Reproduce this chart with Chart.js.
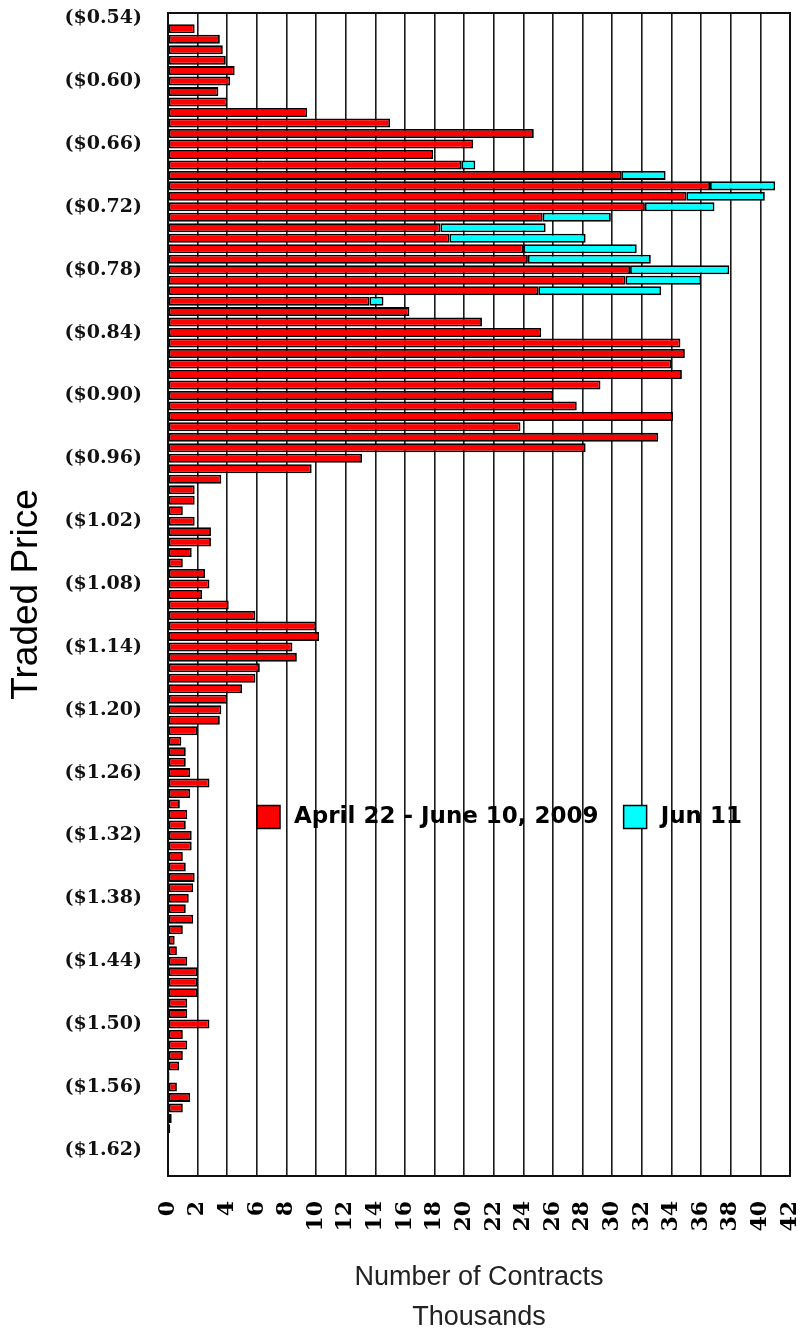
<!DOCTYPE html>
<html>
<head>
<meta charset="utf-8">
<title>Traded Price</title>
<script src="https://cdn.jsdelivr.net/npm/chart.js@4.4.1/dist/chart.umd.min.js"></script>
<style>
  html, body { margin: 0; padding: 0; background: #fff; }
  #wrap { width: 804px; height: 1330px; }
</style>
</head>
<body>
<div id="wrap"><canvas id="chart"></canvas></div>
<script>
const $ = (s) => document.querySelector(s);

// price rows, top to bottom
const prices = [
  "($0.54)", "($0.55)", "($0.56)", "($0.57)", "($0.58)", "($0.59)",
  "($0.60)", "($0.61)", "($0.62)", "($0.63)", "($0.64)", "($0.65)", "($0.66)", "($0.67)", "($0.68)", "($0.69)",
  "($0.70)", "($0.71)", "($0.72)", "($0.73)", "($0.74)", "($0.75)", "($0.76)", "($0.77)", "($0.78)", "($0.79)",
  "($0.80)", "($0.81)", "($0.82)", "($0.83)", "($0.84)", "($0.85)", "($0.86)", "($0.87)", "($0.88)", "($0.89)",
  "($0.90)", "($0.91)", "($0.92)", "($0.93)", "($0.94)", "($0.95)", "($0.96)", "($0.97)", "($0.98)", "($0.99)",
  "($1.00)", "($1.01)", "($1.02)", "($1.03)", "($1.04)", "($1.05)", "($1.06)", "($1.07)", "($1.08)", "($1.09)",
  "($1.10)", "($1.11)", "($1.12)", "($1.13)", "($1.14)", "($1.15)", "($1.16)", "($1.17)", "($1.18)", "($1.19)",
  "($1.20)", "($1.21)", "($1.22)", "($1.23)", "($1.24)", "($1.25)", "($1.26)", "($1.27)", "($1.28)", "($1.29)",
  "($1.30)", "($1.31)", "($1.32)", "($1.33)", "($1.34)", "($1.35)", "($1.36)", "($1.37)", "($1.38)", "($1.39)",
  "($1.40)", "($1.41)", "($1.42)", "($1.43)", "($1.44)", "($1.45)", "($1.46)", "($1.47)", "($1.48)", "($1.49)",
  "($1.50)", "($1.51)", "($1.52)", "($1.53)", "($1.54)", "($1.55)", "($1.56)", "($1.57)", "($1.58)", "($1.59)",
  "($1.60)", "($1.61)", "($1.62)", "($1.63)", "($1.64)",
];

// labels printed on the price axis
const shownTicks = [
  "($0.54)", "($0.60)", "($0.66)", "($0.72)", "($0.78)", "($0.84)", "($0.90)", "($0.96)", "($1.02)", "($1.08)",
  "($1.14)", "($1.20)", "($1.26)", "($1.32)", "($1.38)", "($1.44)", "($1.50)", "($1.56)", "($1.62)",
];

// contracts (thousands), April 22 - June 10, 2009
const aprJun = [
  null, 1.8, 3.5, 3.7, 3.9, 4.5,
  4.2, 3.4, 4.0, 9.4, 15.0, 24.7, 20.6, 17.9, 19.8, 30.6,
  36.6, 35.0, 32.2, 25.3, 18.4, 19.0, 24.0, 24.3, 31.2, 30.9,
  25.0, 13.6, 16.3, 21.2, 25.2, 34.6, 34.9, 34.0, 34.7, 29.2,
  26.0, 27.6, 34.1, 23.8, 33.1, 28.2, 13.1, 9.7, 3.6, 1.8,
  1.8, 1.0, 1.8, 2.9, 2.9, 1.6, 1.0, 2.5, 2.8, 2.3,
  4.1, 5.9, 10.0, 10.2, 8.4, 8.7, 6.2, 5.9, 5.0, 4.0,
  3.6, 3.5, 2.0, 0.9, 1.2, 1.2, 1.5, 2.8, 1.5, 0.8,
  1.3, 1.2, 1.6, 1.6, 1.0, 1.2, 1.8, 1.7, 1.4, 1.2,
  1.7, 1.0, 0.45, 0.6, 1.3, 2.0, 2.0, 2.0, 1.3, 1.3,
  2.8, 1.0, 1.3, 1.0, 0.75, 0.1, 0.6, 1.5, 1.0, 0.25,
  0.15, null, null, null, null,
];

// contracts (thousands), Jun 11 only
const jun11Prices = [
  "($0.68)", "($0.69)", "($0.70)", "($0.71)", "($0.72)", "($0.73)", "($0.74)",
  "($0.75)", "($0.76)", "($0.77)", "($0.78)", "($0.79)", "($0.80)", "($0.81)",
];
const jun11 = [0.95, 3.0, 4.4, 5.3, 4.7, 4.6, 7.1, 9.2, 7.65, 8.3, 6.7, 5.1, 8.3, 0.95];

const contractTicks = [0, 2, 4, 6, 8, 10, 12, 14, 16, 18, 20, 22, 24, 26, 28, 30, 32, 34, 36, 38, 40, 42];

const frame = {
  id: "frame",
  afterDatasetsDraw(chart) {
    const { ctx, chartArea: a } = chart;
    ctx.save();
    ctx.strokeStyle = "#111";
    ctx.lineWidth = 2;
    ctx.strokeRect(a.left, a.top, a.right - a.left, a.bottom - a.top);
    ctx.restore();
  },
};

// legend sits inside the plot, over the grid
const insideLegend = {
  id: "insideLegend",
  afterDraw(chart) {
    const { ctx, chartArea: a } = chart;
    const box = 23;
    const y = a.top + 804;
    let x = a.left + 89;
    ctx.save();
    ctx.font = "bold 23px 'DejaVu Sans'";
    ctx.textBaseline = "middle";
    chart.data.datasets.forEach((ds) => {
      ctx.fillStyle = ds.backgroundColor;
      ctx.fillRect(x, y - box / 2, box, box);
      ctx.strokeStyle = "#000";
      ctx.lineWidth = 1.5;
      ctx.strokeRect(x, y - box / 2, box, box);
      ctx.fillStyle = "#000";
      ctx.fillText(ds.label, x + box + 14, y);
      x += box + 14 + ctx.measureText(ds.label).width + 25;
    });
    ctx.restore();
  },
};

new Chart($("#chart"), {
  type: "bar",
  data: {
    labels: prices,
    datasets: [
      {
        label: "April 22 - June 10, 2009",
        data: aprJun,
        backgroundColor: "#ff0000",
        borderColor: "#000",
        borderWidth: 1.8,
        borderSkipped: false,
        barPercentage: 0.86,
        categoryPercentage: 1,
      },
      {
        label: "Jun 11",
        data: jun11Prices.map((p, i) => ({ y: p, x: jun11[i] })),
        backgroundColor: "#00ffff",
        borderColor: "#000",
        borderWidth: 1.8,
        borderSkipped: false,
        barPercentage: 0.86,
        categoryPercentage: 1,
      },
    ],
  },
  options: {
    indexAxis: "y",
    responsive: true,
    maintainAspectRatio: false,
    animation: false,
    layout: { autoPadding: false, padding: { top: 13, right: 14, left: 0, bottom: 0 } },
    plugins: { legend: { display: false }, tooltip: { enabled: false } },
    scales: {
      x: {
        stacked: true,
        min: 0,
        max: 42,
        afterBuildTicks: (s) => { s.ticks = contractTicks.map((v) => ({ value: v })); },
        afterFit: (s) => {
          s.height = 154;
          s.paddingLeft = 0;
          s.paddingRight = 0;
        },
        grid: { color: "#1a1a1a", lineWidth: 1.6, drawTicks: false },
        border: { display: false },
        ticks: {
          minRotation: 90,
          maxRotation: 90,
          padding: 25,
          color: "#000",
          font: { family: "'DejaVu Serif'", weight: "bold", size: 22 },
        },
        title: {
          display: true,
          text: ["Number of Contracts", "Thousands"],
          color: "#222",
          font: { family: "'Liberation Sans', Arial", size: 27, lineHeight: 40 / 27 },
          padding: { top: 0, bottom: -8 },
        },
      },
      y: {
        stacked: true,
        afterFit: (s) => {
          s.width = 168;
          s.paddingTop = 0;
          s.paddingBottom = 0;
        },
        grid: { display: false, drawTicks: false },
        border: { display: false },
        ticks: {
          autoSkip: false,
          padding: 26,
          color: "#111",
          font: { family: "'DejaVu Serif'", weight: "bold", size: 19 },
          callback: function (v) {
            const l = this.getLabelForValue(v);
            return shownTicks.includes(l) ? l : "";
          },
        },
        title: {
          display: true,
          text: "Traded Price",
          color: "#000",
          font: { family: "'Liberation Sans', Arial", size: 37 },
          padding: { top: 5, bottom: 0 },
        },
      },
    },
  },
  plugins: [frame, insideLegend],
});
</script>
</body>
</html>
